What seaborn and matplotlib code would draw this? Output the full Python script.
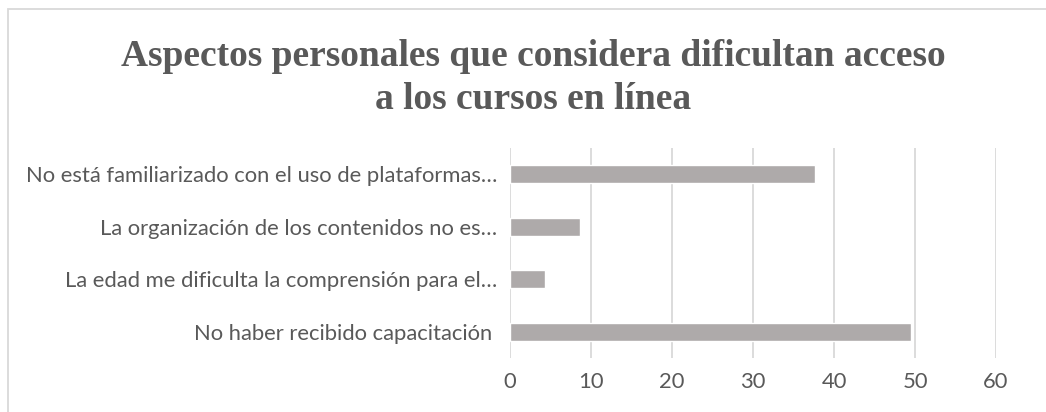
import matplotlib
matplotlib.use('Agg')
import matplotlib.pyplot as plt
import seaborn as sns
import pandas as pd

categories = [
    'No está familiarizado con el uso de plataformas…',
    'La organización de los contenidos no es…',
    'La edad me dificulta la comprensión para el…',
    'No haber recibido capacitación ',
]
values = [37.6, 8.6, 4.3, 49.5]
xticks = [0, 10, 20, 30, 40, 50, 60]

df = pd.DataFrame({'aspecto': categories, 'valor': values})

sns.set_theme(style='white')
plt.rcParams['font.family'] = ['Lato', 'DejaVu Sans']

fig = plt.figure(figsize=(10.46, 4.12), dpi=100)
ax = fig.add_axes([510 / 1046, 1 - 358 / 412, 486 / 1046, 210 / 412])

sns.barplot(data=df, x='valor', y='aspecto', orient='h', color='#aeaaaa',
            saturation=1, width=0.35, ax=ax)

ax.set_xlim(0, 60)
ax.set_ylim(3.5, -0.5)
ax.set_xticks(xticks)
ax.set_xticklabels([str(t) for t in xticks])
ax.grid(axis='x', color='#d9d9d9', linewidth=1.3)
ax.grid(axis='y', visible=False)
ax.set_axisbelow(True)
for s in ax.spines.values():
    s.set_visible(False)
ax.set_xlabel('')
ax.set_ylabel('')
ax.tick_params(axis='both', length=0, labelsize=15.8, colors='#595959')
ax.tick_params(axis='y', pad=9)
ax.tick_params(axis='x', pad=10)

fig.text(533 / 1046, 1 - 78 / 412,
         'Aspectos personales que considera dificultan acceso\na los cursos en línea',
         ha='center', va='center', fontsize=27, fontweight='bold',
         color='#595959', family='Liberation Serif', linespacing=1.3)

# chart frame (Excel-like border)
fig.add_artist(plt.Rectangle((8 / 1046, -0.1), 1.2, 1 - 9 / 412 + 0.1,
                             transform=fig.transFigure, fill=False,
                             edgecolor='#d9d9d9', linewidth=1.3))

fig.savefig('out.png', dpi=100)
